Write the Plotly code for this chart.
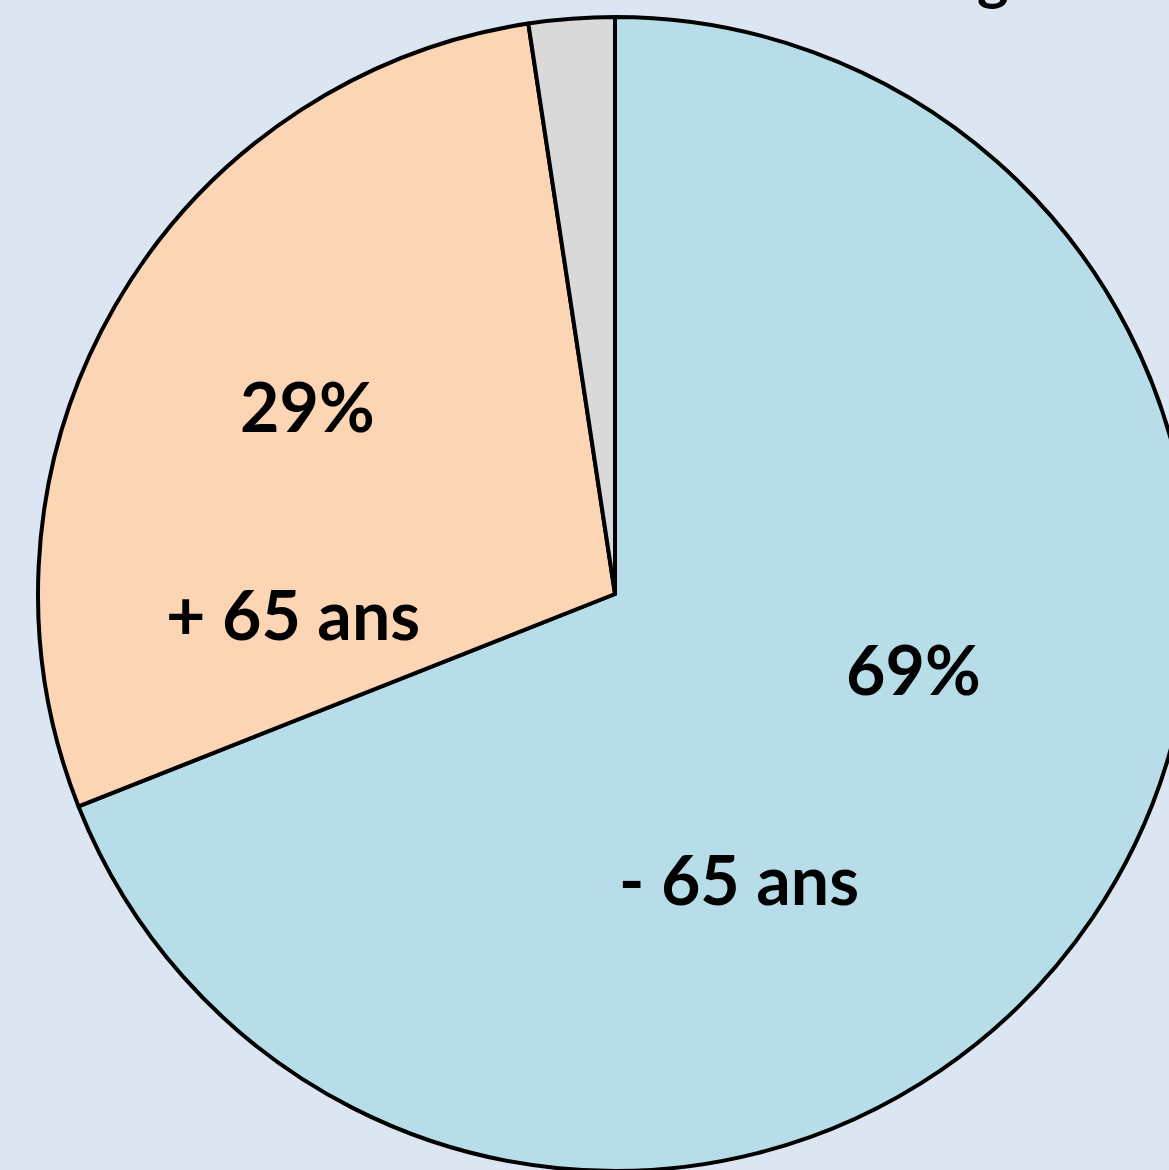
import plotly.graph_objects as go

# Data
categories = ["- 65 ans", "+ 65 ans", "Non renseigné"]
values = [69.0, 28.6, 2.4]
colors = ["#B7DDE8", "#FCD5B5", "#D9D9D9"]
title_text = "Décès selon la tranche d'âge"

FONT = "Lato"
BG = "#DCE6F2"

# Figure slightly larger than the window so that the pie is cropped on the right
W, H = 1200, 1180
L, T = 38, 17
D = 1154  # pie diameter in px

fig = go.Figure()
fig.add_trace(go.Pie(
    labels=categories,
    values=values,
    sort=False,
    direction="clockwise",
    rotation=0,
    marker=dict(colors=colors, line=dict(color="black", width=4)),
    textinfo="none",
    hoverinfo="label+percent",
    showlegend=False,
))

total = sum(values)
pct = [f"{round(v / total * 100)}%" for v in values]

def px_to_paper(x, y):
    return (x - L) / D, 1 - (y - T) / D

annots = []
# label placements (pixel positions in the window)
placements = [
    (pct[0], 913, 668),
    (categories[0], 739, 878),
    (pct[1], 307, 405),
    (categories[1], 293, 613),
]
for txt, px, py in placements:
    xp, yp = px_to_paper(px, py)
    annots.append(dict(
        text=f"<b>{txt}</b>", x=xp, y=yp, xref="paper", yref="paper",
        showarrow=False, xanchor="center", yanchor="middle",
        font=dict(family=FONT, size=68, color="black"),
    ))

# Title, mostly cut off above the top edge
xp, _ = px_to_paper(1042, 0)
annots.append(dict(
    text=f"<b>{title_text}</b>", x=xp, y=1, xref="paper", yref="paper",
    showarrow=False, xanchor="right", yanchor="bottom", yshift=4,
    font=dict(family=FONT, size=60, color="black"),
))

fig.update_layout(
    width=W, height=H,
    margin=dict(l=L, r=W - L - D, t=T, b=H - T - D, pad=0),
    paper_bgcolor=BG,
    plot_bgcolor=BG,
    annotations=annots,
)

fig.write_html(
    "out.html",
    config={"displayModeBar": False},
    post_script="document.body.style.margin='0';document.body.style.overflow='hidden';document.documentElement.style.overflow='hidden';",
)
